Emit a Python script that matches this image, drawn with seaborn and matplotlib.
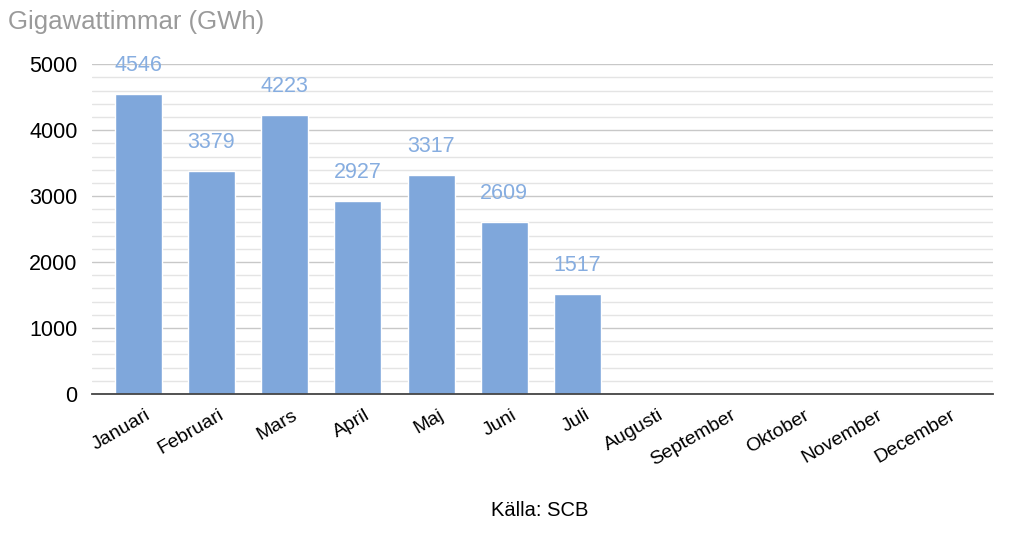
import pandas as pd
import seaborn as sns
import matplotlib.pyplot as plt
import matplotlib.transforms as mtransforms
from matplotlib.ticker import MultipleLocator

manader = ['Januari', 'Februari', 'Mars', 'April', 'Maj', 'Juni', 'Juli',
           'Augusti', 'September', 'Oktober', 'November', 'December']
manad_med_data = ['Januari', 'Februari', 'Mars', 'April', 'Maj', 'Juni', 'Juli']
gwh = [4546, 3379, 4223, 2927, 3317, 2609, 1517]

df = pd.DataFrame({'manad': manad_med_data, 'gwh': gwh})

sns.set_style('white')
plt.rcParams['font.family'] = ['Liberation Sans', 'DejaVu Sans']

fig = plt.figure(figsize=(10.24, 5.53), dpi=100)
ax = fig.add_axes([0.09, 0.2875, 0.88, 0.5965])

sns.barplot(data=df, x='manad', y='gwh', order=manader, color='#7FA7DB',
            width=0.64, saturation=1, ax=ax)

ax.bar_label(ax.containers[0], labels=[str(v) for v in gwh], padding=13,
             color='#86ADE0', fontsize=15.5)

ax.set_ylim(0, 5000)
ax.yaxis.set_major_locator(MultipleLocator(1000))
ax.yaxis.set_minor_locator(MultipleLocator(200))
ax.grid(axis='y', which='major', color='#c8c8c8', linewidth=1)
ax.grid(axis='y', which='minor', color='#e4e4e4', linewidth=1)
ax.set_axisbelow(True)
for s in ['top', 'right', 'left']:
    ax.spines[s].set_visible(False)
ax.spines['bottom'].set_color('#444444')
ax.spines['bottom'].set_linewidth(1.3)
ax.tick_params(axis='both', which='both', length=0, labelcolor='black')
ax.tick_params(axis='y', labelsize=15.5, pad=10.5)
ax.tick_params(axis='x', labelsize=14, pad=9)
skift = mtransforms.ScaledTranslation(0.07, 0, fig.dpi_scale_trans)
for t in ax.get_xticklabels():
    t.set_rotation(30)
    t.set_ha('right')
    t.set_rotation_mode('anchor')
    t.set_transform(t.get_transform() + skift)
ax.set_xlim(-0.63, 11.68)

ax.set_xlabel('Källa: SCB', fontsize=14.5, color='black', va='top')
ax.xaxis.set_label_coords(0.497, -0.325)
ax.set_ylabel('')
fig.text(0.008, 0.961, 'Gigawattimmar (GWh)', fontsize=18.5, color='#9a9a9a',
         va='center', ha='left')

fig.savefig('out.png', dpi=100)
